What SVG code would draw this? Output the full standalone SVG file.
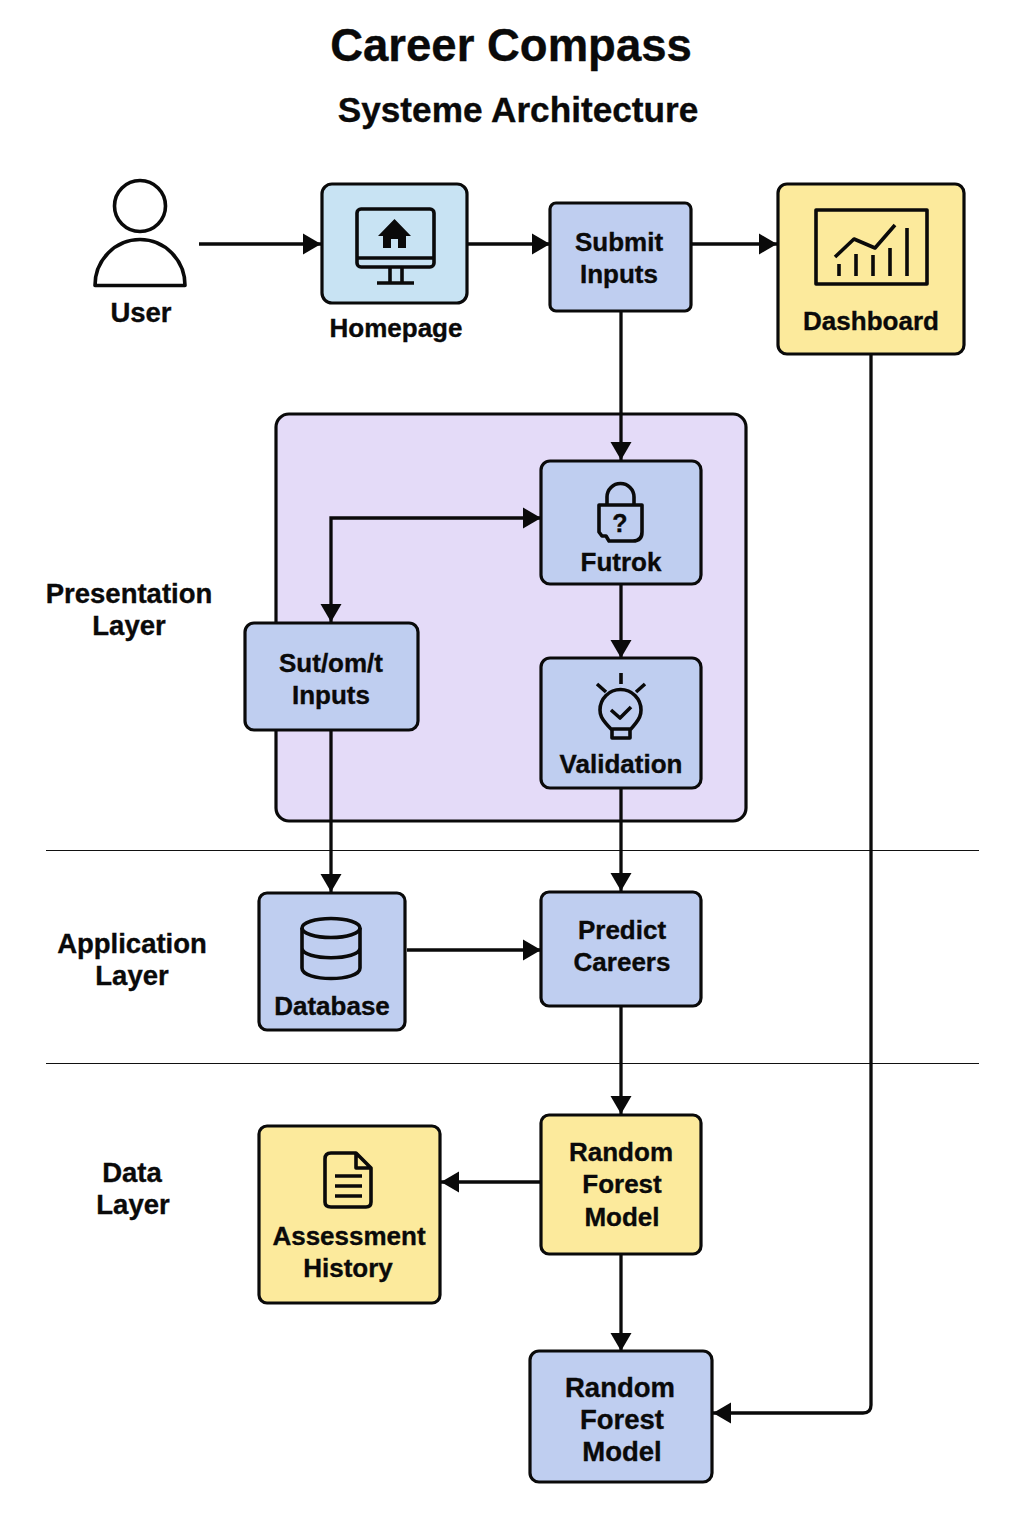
<svg xmlns="http://www.w3.org/2000/svg" width="1024" height="1536" viewBox="0 0 1024 1536">
<style>
text{font-family:"Liberation Sans",Arial,sans-serif;font-weight:700;fill:#0a0a0a;text-anchor:middle;stroke:#0a0a0a;stroke-width:.35px}
.t{font-size:26px}
.l{font-size:27.5px}
.box{stroke:#0a0a0a;stroke-width:3.200px}
.blue{fill:#bfcef0}.yel{fill:#fcea9c}.sky{fill:#c8e3f3}.pur{fill:#e4dbf8}
.ic{fill:none;stroke:#0a0a0a;stroke-width:3.600px;stroke-linejoin:round}
.fc{fill:#0a0a0a;stroke:none}
.c{fill:none;stroke:#0a0a0a;stroke-width:3.300px;marker-end:url(#a)}
.sep{stroke:#111;stroke-width:1px}
</style>
<defs><marker id="a" markerUnits="userSpaceOnUse" markerWidth="22" markerHeight="22" refX="18" refY="11" orient="auto-start-reverse"><path d="M0 0.500 L18 11 L0 21.500 Z" fill="#0a0a0a"/></marker></defs>
<rect width="1024" height="1536" fill="#fff"/>
<text x="511" y="60.500" font-size="45.500">Career Compass</text>
<text x="518" y="121.500" font-size="35.200">Systeme Architecture</text>
<g id="separators"><path class="sep" d="M46 850.500H979M46 1063.500H979"/></g>
<g id="layers">
<text class="l" x="129" y="603">Presentation</text><text class="l" x="129" y="635">Layer</text>
<text class="l" x="132" y="953">Application</text><text class="l" x="132" y="985">Layer</text>
<text class="l" x="132" y="1182">Data</text><text class="l" x="133" y="1214">Layer</text>
</g>
<g id="container"><rect class="box pur" x="276" y="414" width="470" height="407" rx="13"/></g>
<g id="connectors">
<path class="c" d="M199 244H321"/>
<path class="c" d="M468 244H550"/>
<path class="c" d="M692 244H777"/>
<path class="c" d="M621 311V460"/>
<path class="c" d="M621 584V658"/>
<path class="c" style="marker-start:url(#a)" d="M331 622V518H541"/>
<path class="c" d="M331 730V892"/>
<path class="c" d="M621 788V891"/>
<path class="c" d="M407 950H541"/>
<path class="c" d="M621 1006V1114"/>
<path class="c" d="M540 1182H441"/>
<path class="c" d="M621 1254V1351"/>
<path class="c" d="M871 355V1405Q871 1413 863 1413H713"/>
</g>
<g id="user">
<circle class="ic" cx="140" cy="206" r="25.500"/>
<path class="ic" d="M95 285.500A45 46 0 0 1 185 285.500Z"/>
<text class="l" x="141" y="322">User</text>
</g>
<g id="homepage">
<rect class="box sky" x="322" y="184" width="145" height="119" rx="10"/>
<rect class="ic" x="357" y="209" width="77" height="58" rx="4"/>
<path class="ic" d="M357 258H434M390 267V283M402 267V283M377 283H414"/>
<path class="fc" d="M394.500 219L411 236H406V248H398V239H391V248H383V236H378Z"/>
<text class="t" x="396" y="336.500">Homepage</text>
</g>
<g id="submit">
<rect class="box blue" x="550" y="203" width="141" height="108" rx="6"/>
<text class="t" x="619" y="250.500">Submit</text><text class="t" x="619" y="282.500">Inputs</text>
</g>
<g id="dashboard">
<rect class="box yel" x="778" y="184" width="186" height="170" rx="9"/>
<rect class="ic" x="816" y="210" width="111" height="74"/>
<path class="ic" d="M835 257L854 239L875 248L895 225M839 276V264M856 276V254M873 276V255M890 276V248M907 276V228"/>
<text class="t" x="871" y="329.500">Dashboard</text>
</g>
<g id="futrok">
<rect class="box blue" x="541" y="461" width="160" height="123" rx="9"/>
<path class="ic" d="M607 505V497A13.500 13.500 0 0 1 634 497V505M599 505H642V532Q642 541 633 541H609L606 536H602L599 532Z"/>
<text x="620" y="532" font-size="25">?</text>
<text class="t" x="621" y="570.500">Futrok</text>
</g>
<g id="validation">
<rect class="box blue" x="541" y="658" width="160" height="130" rx="9"/>
<path class="ic" d="M621 673V684M597 684L606 692M645 684L636 692M612 730C600 718 600 714 600 710A20.500 20.500 0 0 1 641 710C641 714 641 718 630 730V738H612ZM612 729H630M611 710L620 718L631 707"/>
<text class="t" x="621" y="772.500">Validation</text>
</g>
<g id="sutomt">
<rect class="box blue" x="245" y="623" width="173" height="107" rx="9"/>
<text class="t" x="331" y="671.500">Sut/om/t</text><text class="t" x="331" y="703.500">Inputs</text>
</g>
<g id="database">
<rect class="box blue" x="259" y="893" width="146" height="137" rx="8"/>
<path class="ic" d="M302 928V968C302 982 360 982 360 968V928M302 948C302 961 360 961 360 948"/>
<ellipse class="ic" cx="331" cy="928" rx="29" ry="9.500"/>
<text class="t" x="332" y="1014.500">Database</text>
</g>
<g id="predict">
<rect class="box blue" x="541" y="892" width="160" height="114" rx="8"/>
<text class="t" x="622" y="938.500">Predict</text><text class="t" x="622" y="970.500">Careers</text>
</g>
<g id="history">
<rect class="box yel" x="259" y="1126" width="181" height="177" rx="8"/>
<path class="ic" d="M331 1153H356L371 1168V1202Q371 1207 366 1207H331Q325 1207 325 1202V1159Q325 1153 331 1153ZM356 1153V1168H371M335 1176H362M335 1186H362M335 1196H362"/>
<text class="t" x="349" y="1244.500">Assessment</text><text class="t" x="348" y="1276.500">History</text>
</g>
<g id="model1">
<rect class="box yel" x="541" y="1115" width="160" height="139" rx="8"/>
<text class="t" x="621" y="1160.500">Random</text><text class="t" x="622" y="1192.500">Forest</text><text class="t" x="622" y="1225.500">Model</text>
</g>
<g id="model2">
<rect class="box blue" x="530" y="1351" width="182" height="131" rx="9"/>
<text class="l" x="620" y="1397">Random</text><text class="l" x="622" y="1429">Forest</text><text class="l" x="622" y="1461">Model</text>
</g>
</svg>
